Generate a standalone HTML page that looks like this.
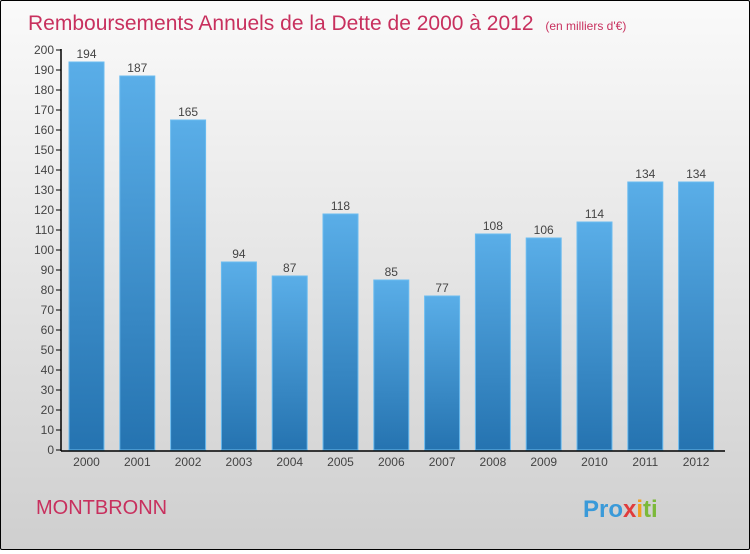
<!DOCTYPE html>
<html><head><meta charset="utf-8"><style>
body{margin:0;width:750px;height:550px;overflow:hidden;font-family:"Liberation Sans",sans-serif}
#wrap{position:absolute;left:0;top:0;width:748px;height:548px;border:1px solid #000;border-radius:2px;background:linear-gradient(#fafafa,#cfcfcf)}
</style></head><body>
<div id="wrap">
<svg id="chart" width="748" height="548">
<defs><linearGradient id="bg" x1="0" y1="0" x2="0" y2="1"><stop offset="0" stop-color="#5aaee8"/><stop offset="1" stop-color="#2573b0"/></linearGradient></defs>
<text x="27" y="29" font-size="21" fill="#c8305e">Remboursements Annuels de la Dette de 2000 à 2012 <tspan font-size="12" dx="6">(en milliers d'€)</tspan></text>
<text x="35" y="513" font-size="20" fill="#c8305e">MONTBRONN</text>
<text x="582" y="516" font-size="24" font-weight="bold" fill="#3a9ad9">Pro<tspan fill="#e03c3c">x</tspan><tspan fill="#f0a020">i</tspan><tspan fill="#7cb93a">ti</tspan></text>
<g id="plot"></g>
</svg></div>
<script>
const categories=["2000","2001","2002","2003","2004","2005","2006","2007","2008","2009","2010","2011","2012"];
const values=[194,187,165,94,87,118,85,77,108,106,114,134,134];
const yTicks=[0,10,20,30,40,50,60,70,80,90,100,110,120,130,140,150,160,170,180,190,200];
const NS="http://www.w3.org/2000/svg";
const g=document.getElementById('plot');
const x0=60,y0=449,ky=2,step=50.8,bw=35;
const y=v=>y0-v*ky;
const xc=i=>x0+25.5+i*step;
function mk(t,a){const e=document.createElementNS(NS,t);for(const k in a)e.setAttribute(k,a[k]);g.appendChild(e);return e;}
yTicks.forEach(v=>{
 const l=mk('line',{x1:x0-5,x2:x0,y1:y(v),y2:y(v),stroke:'#000'});
 
 
 const t=mk('text',{x:x0-7,y:y(v)+4,'font-size':12,'text-anchor':'end',fill:'#444'});
 t.textContent=v;
 
 
});
values.forEach((v,i)=>{
 const r=mk('rect',{x:xc(i)-bw/2,y:y(v),width:bw,height:v*ky,fill:'url(#bg)',stroke:'#6bbcf0','stroke-width':1});
 
 
 const t=mk('text',{x:xc(i),y:y(v)-4,'font-size':12,'text-anchor':'middle',fill:'#444'});
 t.textContent=v;
 
 
 const c=mk('text',{x:xc(i),y:y0+16,'font-size':12,'text-anchor':'middle',fill:'#444'});
 c.textContent=categories[i];
 
 
});
const ya=mk('line',{x1:x0,x2:x0,y1:y(200)-1,y2:y0+1,stroke:'#000','stroke-width':1.5});


const xa=mk('line',{x1:x0,x2:724,y1:y0+1,y2:y0+1,stroke:'#000','stroke-width':1.5});


</script>
</body></html>
